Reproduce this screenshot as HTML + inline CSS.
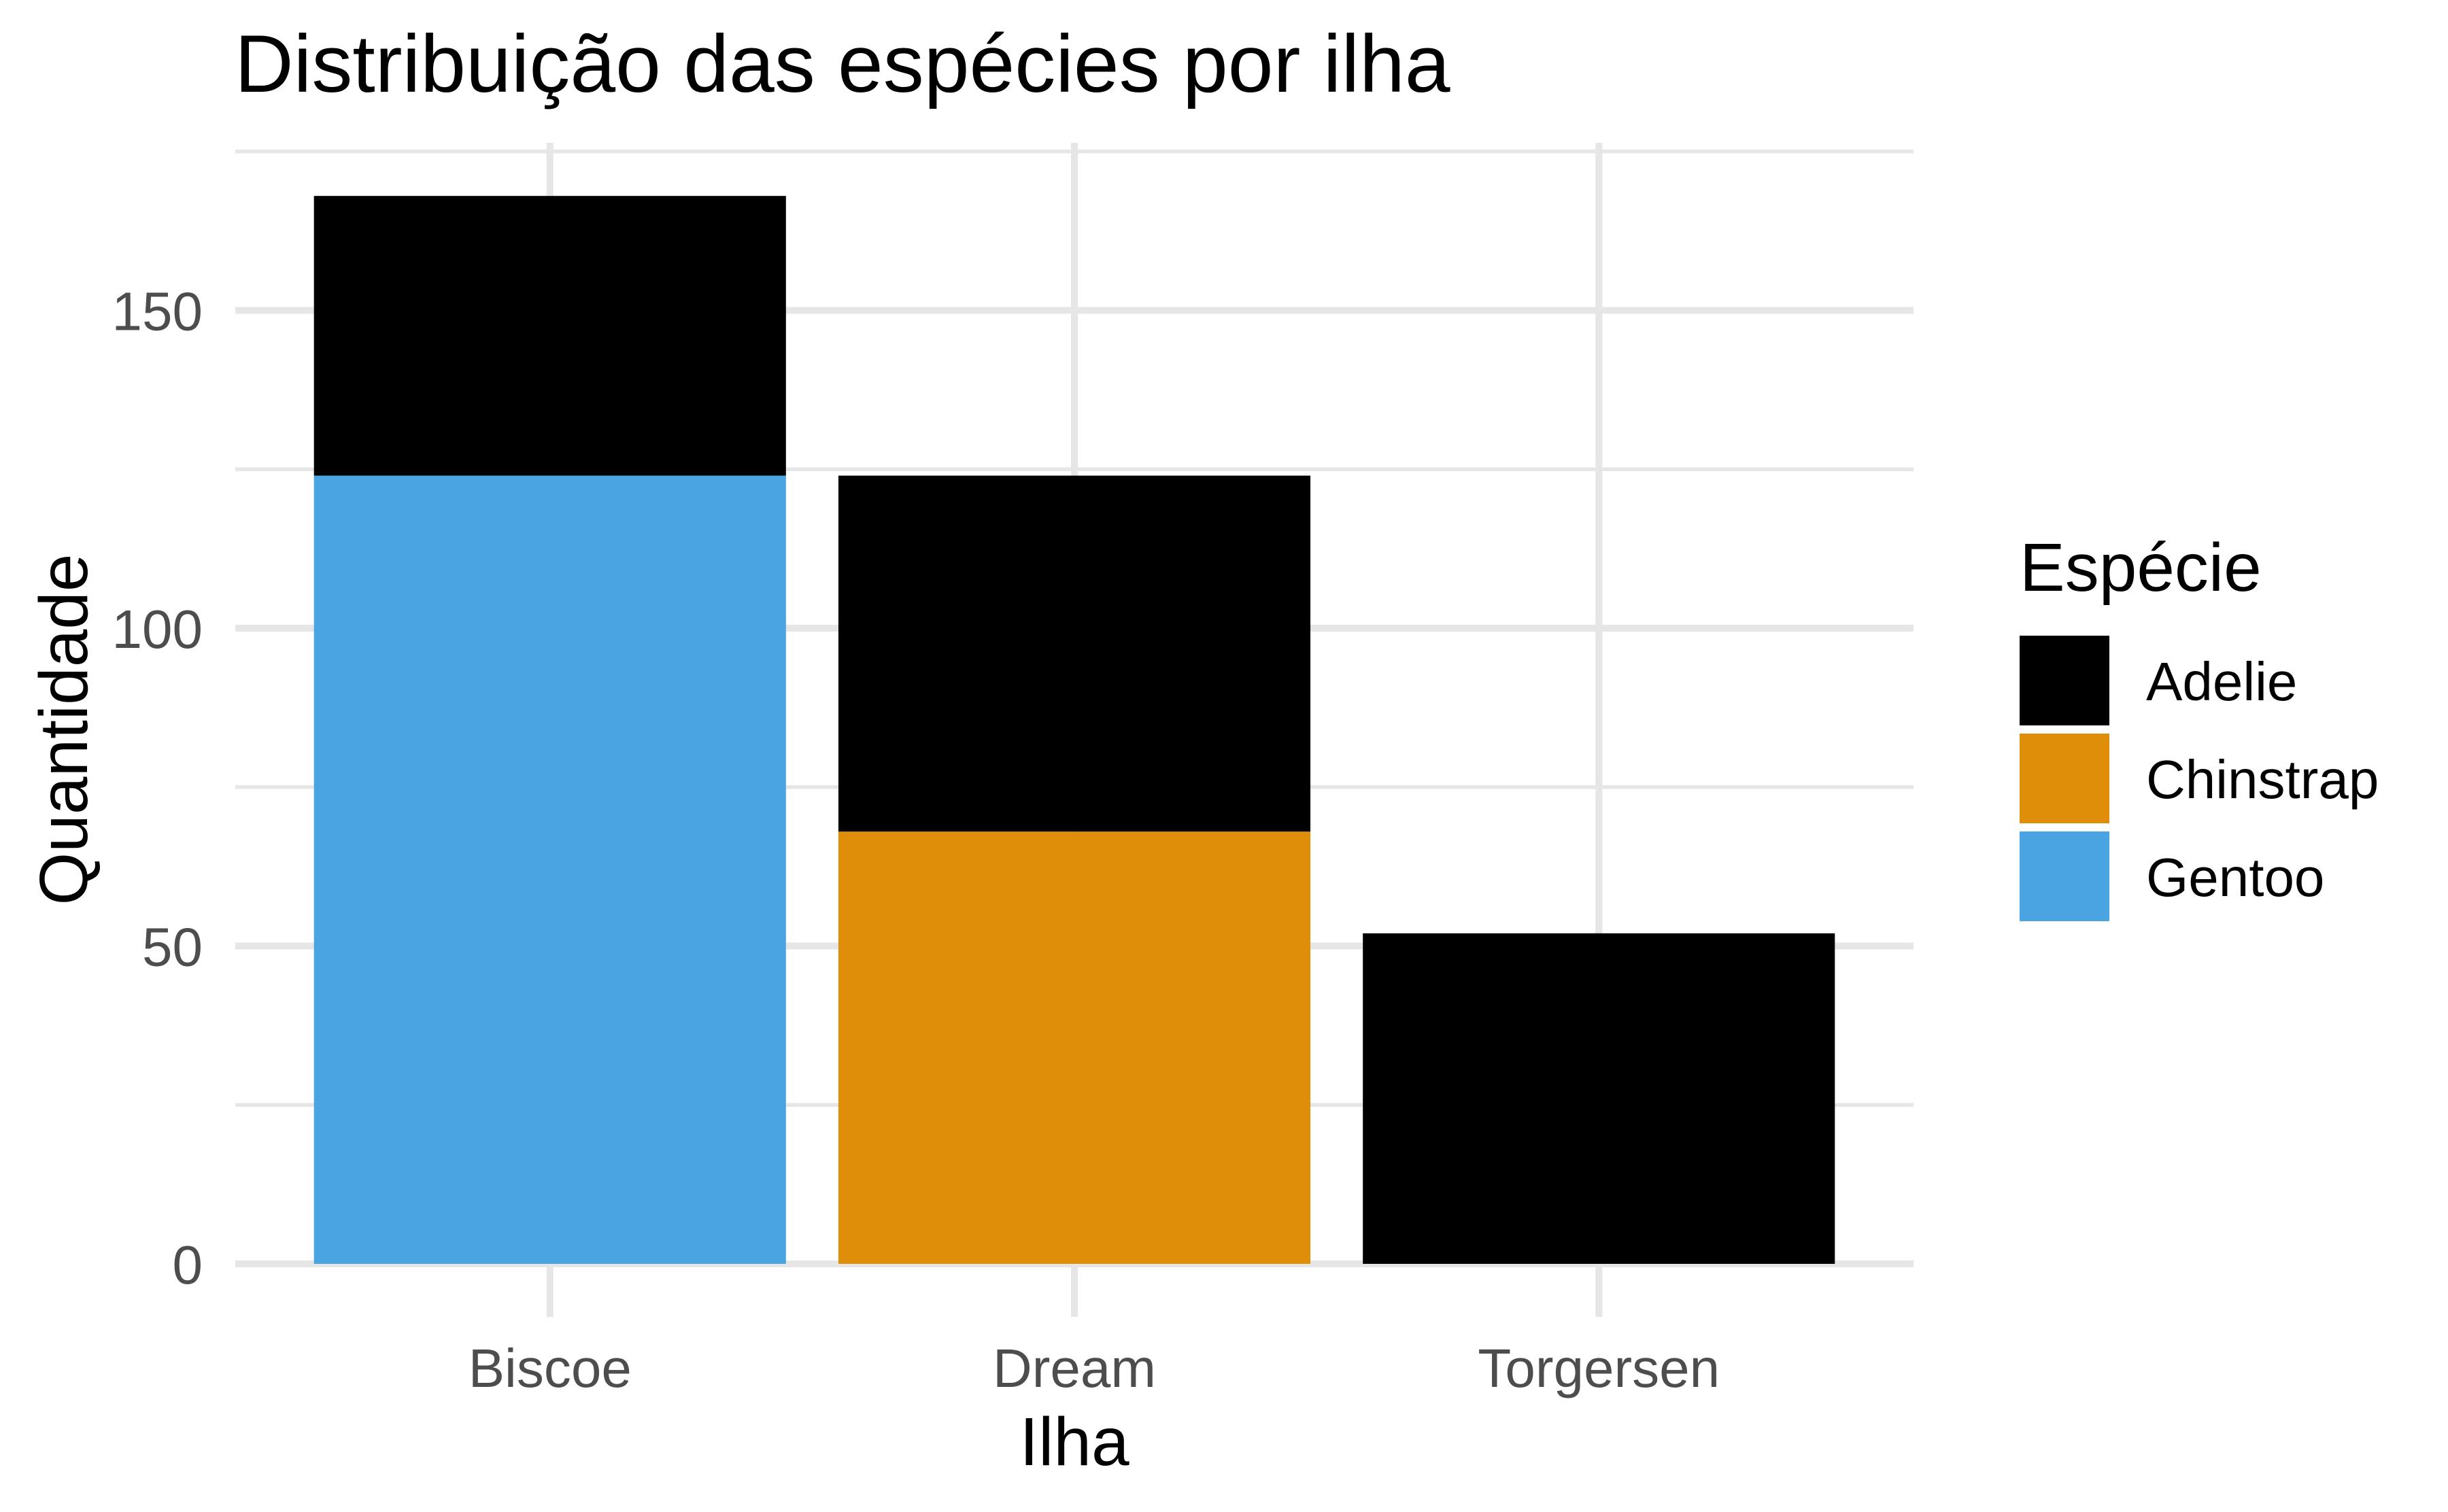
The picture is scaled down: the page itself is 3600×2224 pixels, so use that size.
<!DOCTYPE html>
<html><head><meta charset="utf-8"><style>
html,body{margin:0;padding:0;background:#fff;}
svg{display:block;font-family:"Liberation Sans",Arial,sans-serif;}
</style></head><body>
<svg id="chart" width="3600" height="2224" viewBox="0 0 3600 2224" xmlns="http://www.w3.org/2000/svg">
<rect width="3600" height="2224" fill="#fff"/>
<text x="345" y="135" font-size="120" fill="#000">Distribuição das espécies por ilha</text>
<g id="grid"></g>
<g id="bars"></g>
<g id="yticks"></g>
<g id="xticks"></g>
<text x="1580" y="2155" font-size="100" text-anchor="middle" fill="#000">Ilha</text>
<text transform="translate(128,1073) rotate(-90)" font-size="100" text-anchor="middle" fill="#000">Quantidade</text>
<text x="2970" y="869" font-size="100" fill="#000">Espécie</text>
<g id="legend"></g>
</svg>
<script>
const islands = ["Biscoe", "Dream", "Torgersen"];
const species = ["Adelie", "Chinstrap", "Gentoo"];
const adelie = [44, 56, 52];
const chinstrap = [0, 68, 0];
const gentoo = [124, 0, 0];
const yTicks = [0, 50, 100, 150];
const yMinor = [25, 75, 125, 175];
const colors = {Adelie: "#000000", Chinstrap: "#DF8E0A", Gentoo: "#4AA4E2"};

const NS = "http://www.w3.org/2000/svg";
const L = 346, R = 2814, T = 210, B = 1937;
const y0 = 1859, pxPerUnit = 9.35;
const unit = (R - L) / 3.2;
const gridColor = "#e6e6e6";
function xScale(i) { return L + (0.6 + i) * unit; }
function yScale(v) { return y0 - v * pxPerUnit; }
function mk(tag, attrs, parent) {
  const e = document.createElementNS(NS, tag);
  for (const k in attrs) e.setAttribute(k, attrs[k]);
  parent.appendChild(e);
  return e;
}
const grid = document.getElementById("grid");
yMinor.forEach(v => {
  const l = mk("line", {x1: L, x2: R, y1: yScale(v), y2: yScale(v), stroke: gridColor, "stroke-width": 5.5}, grid);
  
  
});
yTicks.forEach(v => {
  const l = mk("line", {x1: L, x2: R, y1: yScale(v), y2: yScale(v), stroke: gridColor, "stroke-width": 10}, grid);
  
  
});
islands.forEach((d, i) => {
  const l = mk("line", {x1: xScale(i), x2: xScale(i), y1: T, y2: B, stroke: gridColor, "stroke-width": 10}, grid);
  
  
});
const bars = document.getElementById("bars");
const seriesVals = {Adelie: adelie, Chinstrap: chinstrap, Gentoo: gentoo};
const stackOrder = ["Gentoo", "Chinstrap", "Adelie"];
const bw = 0.9 * unit;
islands.forEach((d, i) => {
  let base = 0;
  stackOrder.forEach(s => {
    const v = seriesVals[s][i];
    if (v > 0) {
      const r = mk("rect", {x: xScale(i) - bw / 2, y: yScale(base + v), width: bw, height: yScale(base) - yScale(base + v), fill: colors[s]}, bars);
      
      
    }
    base += v;
  });
});
const yt = document.getElementById("yticks");
yTicks.forEach(v => {
  const t = mk("text", {x: 298, y: yScale(v) + 29, "font-size": 80, "text-anchor": "end", fill: "#4d4d4d"}, yt);
  t.textContent = v;
  
  
});
const xt = document.getElementById("xticks");
islands.forEach((d, i) => {
  const t = mk("text", {x: xScale(i), y: 2040, "font-size": 80, "text-anchor": "middle", fill: "#4d4d4d"}, xt);
  t.textContent = d;
  
  
});
const lg = document.getElementById("legend");
species.forEach((s, i) => {
  const g = mk("g", {}, lg);
  
  
  const r = mk("rect", {x: 2970, y: 935 + i * 144, width: 132, height: 132, fill: colors[s]}, g);
  
  
  const t = mk("text", {x: 3156, y: 1030 + i * 144, "font-size": 80, fill: "#000"}, g);
  t.textContent = s;
  
  
});
</script>
</body></html>
